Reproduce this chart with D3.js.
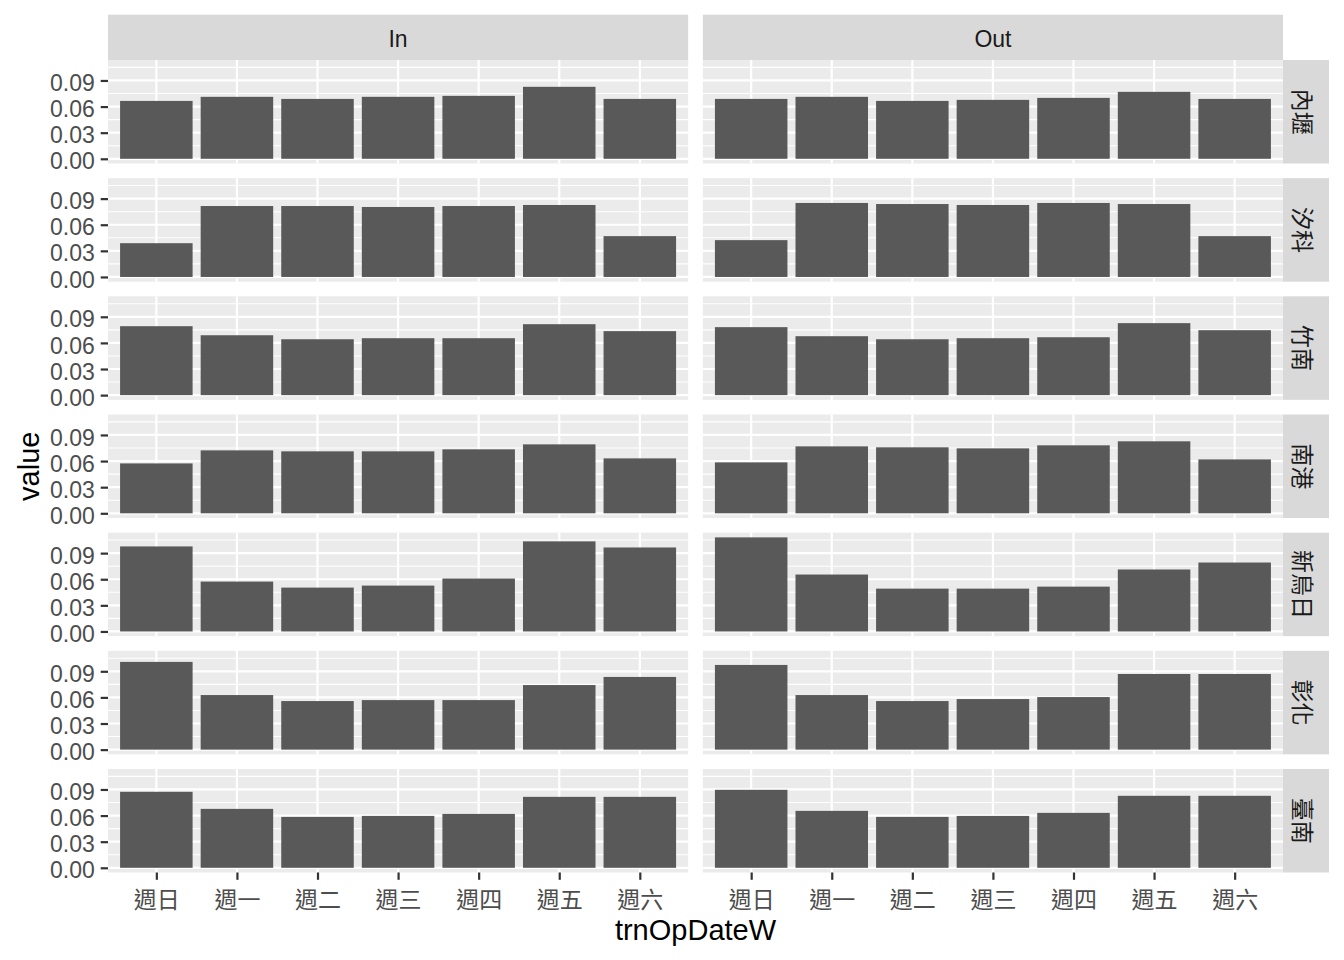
<!DOCTYPE html>
<html>
<head>
<meta charset="utf-8">
<script src="https://cdn.jsdelivr.net/npm/d3@7"></script>
<style>
  html, body { margin: 0; padding: 0; background: #fff; }
  svg { display: block; }
</style>
</head>
<body>
<svg id="chart" width="1344" height="960"></svg>
<script>
// ---- data ----
const days = ["週日", "週一", "週二", "週三", "週四", "週五", "週六"];
const stations = ["內壢", "汐科", "竹南", "南港", "新烏日", "彰化", "臺南"];
const directions = ["In", "Out"];
const yTicks = [0, 0.03, 0.06, 0.09];
const yMinor = [0.015, 0.045, 0.075, 0.105];

const neiliIn    = [0.0665, 0.0712, 0.0688, 0.0712, 0.0723, 0.0827, 0.0688];
const neiliOut   = [0.0688, 0.0712, 0.0665, 0.0677, 0.0700, 0.0769, 0.0688];
const xikeIn     = [0.0388, 0.0815, 0.0815, 0.0804, 0.0815, 0.0827, 0.0469];
const xikeOut    = [0.0423, 0.0850, 0.0838, 0.0827, 0.0850, 0.0838, 0.0469];
const zhunanIn   = [0.0792, 0.0688, 0.0642, 0.0654, 0.0654, 0.0815, 0.0735];
const zhunanOut  = [0.0781, 0.0677, 0.0642, 0.0654, 0.0665, 0.0827, 0.0746];
const nangangIn  = [0.0573, 0.0723, 0.0712, 0.0712, 0.0735, 0.0792, 0.0631];
const nangangOut = [0.0585, 0.0769, 0.0758, 0.0746, 0.0781, 0.0827, 0.0619];
const xinwuriIn  = [0.0977, 0.0573, 0.0504, 0.0527, 0.0608, 0.1035, 0.0965];
const xinwuriOut = [0.1081, 0.0654, 0.0492, 0.0492, 0.0515, 0.0712, 0.0792];
const changhuaIn = [0.1008, 0.0627, 0.0558, 0.0569, 0.0569, 0.0742, 0.0835];
const changhuaOut= [0.0973, 0.0627, 0.0558, 0.0581, 0.0604, 0.0869, 0.0869];
const tainanIn   = [0.0873, 0.0677, 0.0585, 0.0596, 0.0619, 0.0815, 0.0815];
const tainanOut  = [0.0896, 0.0654, 0.0585, 0.0596, 0.0631, 0.0827, 0.0827];

const seriesByStation = [
  [neiliIn, neiliOut], [xikeIn, xikeOut], [zhunanIn, zhunanOut],
  [nangangIn, nangangOut], [xinwuriIn, xinwuriOut], [changhuaIn, changhuaOut],
  [tainanIn, tainanOut]
];

(function draw() {
  const svg = d3.select("#chart");
  const pLeft = 108, pRight = 1283, pTop = 60, pBottom = 872.5, gap = 14.67;
  const stripTop = 14.67, stripRightW = 46;
  const pw = (pRight - pLeft - gap) / 2;
  const ph = (pBottom - pTop - gap * (stations.length - 1)) / stations.length;

  const allVals = seriesByStation.flat(2);
  const M = d3.max(allVals);
  const y = d3.scaleLinear().domain([-0.05 * M, 1.05 * M]).range([ph, 0]);
  const x = d3.scalePoint().domain(days).range([0, pw]).padding(0.6);
  const bw = x.step() * 0.9;

  const axisFont = "'Liberation Sans', Arial, sans-serif";
  const cjkFont = "'Noto Sans CJK TC', 'Noto Sans CJK SC', sans-serif";

  directions.forEach((dir, c) => {
    const px = pLeft + c * (pw + gap);
    svg.append("rect").attr("x", px).attr("y", stripTop).attr("width", pw)
      .attr("height", pTop - stripTop).attr("fill", "#D9D9D9");
    svg.append("text").attr("x", px + pw / 2).attr("y", (stripTop + pTop) / 2)
      .attr("dy", "0.4em").attr("text-anchor", "middle")
      .attr("font-family", axisFont).attr("font-size", 23).attr("fill", "#1A1A1A")
      .text(dir);
  });

  stations.forEach((st, r) => {
    const py = pTop + r * (ph + gap);
    directions.forEach((dir, c) => {
      const px = pLeft + c * (pw + gap);
      const g = svg.append("g").attr("transform", `translate(${px},${py})`);
      g.append("rect").attr("width", pw).attr("height", ph).attr("fill", "#EBEBEB");
      g.selectAll("line.minor").data(yMinor.filter(v => y(v) >= 0 && y(v) <= ph)).join("line")
        .attr("x1", 0).attr("x2", pw).attr("y1", d => y(d)).attr("y2", d => y(d))
        .attr("stroke", "#fff").attr("stroke-width", 1.1);
      g.selectAll("line.majy").data(yTicks).join("line")
        .attr("x1", 0).attr("x2", pw).attr("y1", d => y(d)).attr("y2", d => y(d))
        .attr("stroke", "#fff").attr("stroke-width", 2.2);
      g.selectAll("line.majx").data(days).join("line")
        .attr("x1", d => x(d)).attr("x2", d => x(d)).attr("y1", 0).attr("y2", ph)
        .attr("stroke", "#fff").attr("stroke-width", 2.2);
      const vals = seriesByStation[r][c];
      g.selectAll("rect.bar").data(days.map((d, i) => ({ d, v: vals[i] }))).join("rect")
        .attr("class", "bar")
        .attr("x", d => x(d.d) - bw / 2).attr("width", bw)
        .attr("y", d => y(d.v)).attr("height", d => y(0) - y(d.v))
        .attr("fill", "#595959");

      if (c === 0) {
        const ax = g.append("g").call(d3.axisLeft(y).tickValues(yTicks)
          .tickFormat(d3.format(".2f")).tickSize(7.3).tickPadding(5.9));
        ax.select(".domain").remove();
        ax.selectAll(".tick line").attr("stroke", "#333333").attr("stroke-width", 2.2);
        ax.selectAll(".tick text").attr("font-family", axisFont).attr("font-size", 23)
          .attr("fill", "#4D4D4D").attr("dy", "0.44em");
      }
      if (r === stations.length - 1) {
        const ax = g.append("g").attr("transform", `translate(0,${ph})`)
          .call(d3.axisBottom(x).tickSize(7.3).tickPadding(5.9));
        ax.select(".domain").remove();
        ax.selectAll(".tick line").attr("stroke", "#333333").attr("stroke-width", 2.2);
        ax.selectAll(".tick text").attr("font-family", cjkFont).attr("font-size", 23)
          .attr("fill", "#4D4D4D").attr("dy", "0.98em");
      }
    });
    svg.append("rect").attr("x", pRight).attr("y", py).attr("width", stripRightW)
      .attr("height", ph).attr("fill", "#D9D9D9");
    svg.append("text")
      .attr("transform", `translate(${pRight + stripRightW / 2 - 2},${py + ph / 2}) rotate(90)`)
      .attr("text-anchor", "middle").attr("dominant-baseline", "central")
      .attr("font-family", cjkFont).attr("font-size", 23).attr("fill", "#1A1A1A")
      .text(st);
  });

  svg.append("text").attr("x", (pLeft + pRight) / 2).attr("y", 940)
    .attr("text-anchor", "middle").attr("font-family", axisFont).attr("font-size", 29)
    .attr("fill", "#000").text("trnOpDateW");
  svg.append("text").attr("transform", `translate(38.5,${(pTop + pBottom) / 2}) rotate(-90)`)
    .attr("text-anchor", "middle").attr("font-family", axisFont).attr("font-size", 29)
    .attr("fill", "#000").text("value");
})();
</script>
</body>
</html>
